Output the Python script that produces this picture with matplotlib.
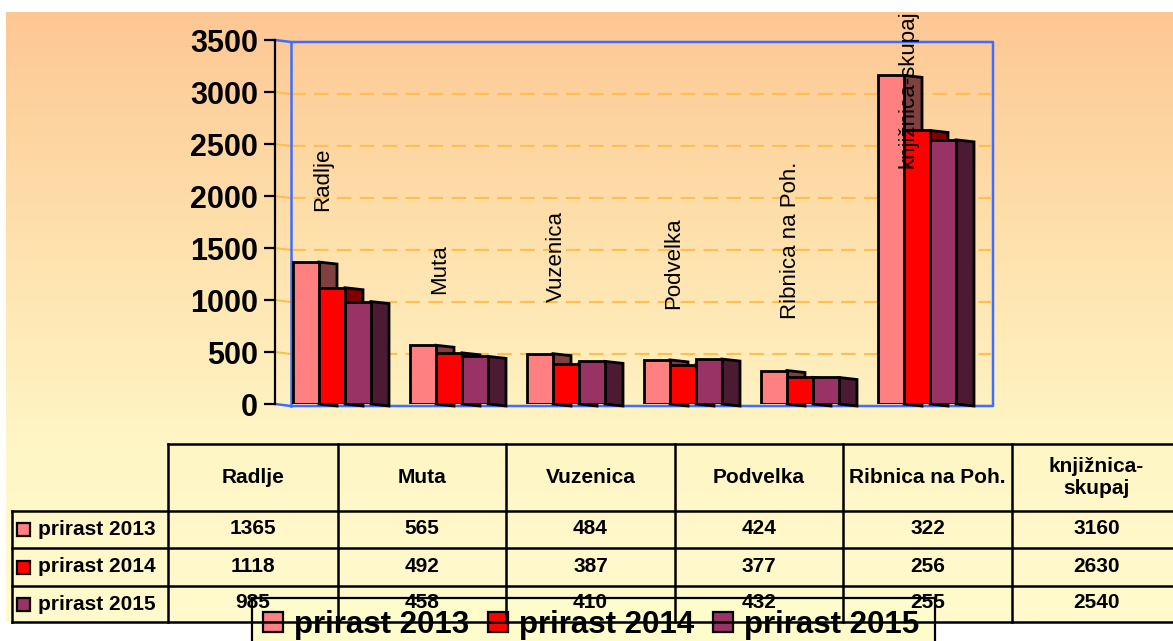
import numpy as np
import matplotlib
matplotlib.use('Agg')
import matplotlib.pyplot as plt
from matplotlib.patches import Rectangle, Polygon

plt.rcParams['font.family'] = ['Liberation Sans', 'DejaVu Sans']

# ---------------- data ----------------
categories = ['Radlje', 'Muta', 'Vuzenica', 'Podvelka', 'Ribnica na Poh.', 'knjižnica-skupaj']
series_names = ['prirast 2013', 'prirast 2014', 'prirast 2015']
prirast_2013 = [1365, 565, 484, 424, 322, 3160]
prirast_2014 = [1118, 492, 387, 377, 256, 2630]
prirast_2015 = [985, 458, 410, 432, 255, 2540]
y_ticks = [0, 500, 1000, 1500, 2000, 2500, 3000, 3500]

series = [prirast_2013, prirast_2014, prirast_2015]
front_colors = ['#FF8080', '#FF0000', '#993366']
side_colors = ['#804040', '#800000', '#4C1A33']
grid_c = '#FFBE4D'
blue_c = '#3F6EFF'

W, H, DPI = 1173, 641, 100
fig = plt.figure(figsize=(W / DPI, H / DPI), dpi=DPI, facecolor='white')


def fx(px):
    return px / W


def fy(py):
    return 1 - py / H


# ---------------- background gradient ----------------
ax_bg = fig.add_axes([0, 0, 1, 1], zorder=0)
ys = np.arange(12, 623)
stops_y = [12, 220, 450, 622]
stops_c = np.array([[253, 199, 148], [254, 223, 170], [255, 246, 198], [255, 250, 205]]) / 255
grad = np.stack([np.interp(ys, stops_y, stops_c[:, k]) for k in range(3)], axis=-1)[:, None, :]
ax_bg.imshow(grad, extent=(6, W, 622, 12), aspect='auto', interpolation='bilinear')
ax_bg.set_xlim(0, W)
ax_bg.set_ylim(H, 0)
ax_bg.axis('off')

# ---------------- main plot ----------------
x_axis_px, x0_px, x_right_px = 275, 291, 993
y0_px, ytop_px = 404, 40
ncat = len(categories)
unit = (x_right_px - x0_px) / ncat
ax = fig.add_axes([fx(x_axis_px), fy(y0_px), (x_right_px - x_axis_px) / W, (y0_px - ytop_px) / H], zorder=1)
xl = -(x0_px - x_axis_px) / unit
ax.set_xlim(xl, ncat)
ax.set_ylim(y_ticks[0], y_ticks[-1])
ax.patch.set_visible(False)
for s in ['top', 'right', 'bottom']:
    ax.spines[s].set_visible(False)
ax.spines['left'].set_linewidth(1.6)
ax.set_xticks([])
ax.set_yticks(y_ticks)
ax.tick_params(axis='y', length=7.9, width=1.6, pad=4.3, labelsize=22)
for lab in ax.get_yticklabels():
    lab.set_fontweight('bold')

ymax = y_ticks[-1]
d = 2 * ymax / (y0_px - ytop_px)  # small perspective drop (2 px)

# gridlines
for v in y_ticks[1:-1]:
    ax.plot([xl, 0], [v, v - d], color=grid_c, lw=1.5, zorder=0.5, clip_on=False)
    ax.plot([0, ncat - 0.02], [v - d, v - d], color=grid_c, lw=1.5, ls=(0, (7, 4)), zorder=0.5)

# blue back wall frame
ax.plot([xl, 0, ncat, ncat, 0, xl], [ymax, ymax - d, ymax - d, -d, -d, 0],
        color=blue_c, lw=1.8, clip_on=False, zorder=1)
ax.plot([0, 0], [-d, ymax - d], color=blue_c, lw=1.8, clip_on=False, zorder=1)

# bars with pseudo-3D side faces
bw, sw, gap0 = 26 / unit, 18 / unit, 2 / unit
for j, vals in enumerate(series):
    xs = np.arange(ncat) + gap0 + j * bw
    ax.bar(xs, vals, width=bw, align='edge', color=front_colors[j], edgecolor='black',
           linewidth=2.0, zorder=3)
    for x, v in zip(xs, vals):
        ax.add_patch(Polygon([(x + bw, 0), (x + bw, v), (x + bw + sw, v - d), (x + bw + sw, -d)],
                             closed=True, fc=side_colors[j], ec='black', lw=2.0, zorder=2,
                             clip_on=False, joinstyle='miter'))

# rotated category labels above first series
labels = []
for i, (name, v) in enumerate(zip(categories, prirast_2013)):
    t = ax.annotate(name, xy=(i + 0.27, v), xytext=(0, 37), textcoords='offset points',
                    rotation=90, ha='center', va='bottom', fontsize=16, zorder=6,
                    annotation_clip=False)
    labels.append(t)

fig.canvas.draw()
limit = H - 10
for t in labels:
    bb = t.get_window_extent()
    if bb.y1 > limit:
        shift_pt = (bb.y1 - limit) * 72 / DPI
        t.xyann = (0, 37 - shift_pt)

# ---------------- table + legend (pixel overlay) ----------------
ov = fig.add_axes([0, 0, 1, 1], zorder=2)
ov.set_xlim(0, W)
ov.set_ylim(H, 0)
ov.axis('off')
ov.patch.set_visible(False)

# legend (drawn below table)
ov.add_patch(Rectangle((252, 598), 683, 60, fc='#FFFCCB', ec='black', lw=1.6, zorder=1, clip_on=True))
for j, name in enumerate(series_names):
    sx = 263 + j * 225
    ov.add_patch(Rectangle((sx, 612), 20, 20, fc=front_colors[j], ec='black', lw=1.6, zorder=2))
    ov.text(sx + 31, 633, name, fontsize=22.5, fontweight='bold', ha='left', va='baseline', zorder=2)

col_x = [12, 168, 338, 506, 675, 843, 1012, 1181]
row_y = [444, 511, 548, 586, 622]
lw_t = 1.8
ov.plot([col_x[1], col_x[-1]], [row_y[0], row_y[0]], color='black', lw=lw_t, zorder=3)
for yy in row_y[1:]:
    ov.plot([col_x[0], col_x[-1]], [yy, yy], color='black', lw=lw_t, zorder=3)
ov.plot([col_x[0], col_x[0]], [row_y[1], row_y[-1]], color='black', lw=lw_t, zorder=3)
for xx in col_x[1:]:
    ov.plot([xx, xx], [row_y[0], row_y[-1]], color='black', lw=lw_t, zorder=3)

hy = (row_y[0] + row_y[1]) / 2
for i, name in enumerate(categories):
    cx = (col_x[i + 1] + col_x[i + 2]) / 2
    ov.text(cx, hy, name.replace('-', '-\n'), fontsize=15, fontweight='bold', ha='center',
            va='center', multialignment='center', linespacing=1.15, zorder=4)

for j, (name, vals) in enumerate(zip(series_names, series)):
    cy = (row_y[j + 1] + row_y[j + 2]) / 2
    ov.add_patch(Rectangle((17, cy - 6.5), 13, 13, fc=front_colors[j], ec='black', lw=1.6, zorder=4))
    ov.text(38, cy, name, fontsize=15, fontweight='bold', ha='left', va='center', zorder=4)
    for i, v in enumerate(vals):
        cx = (col_x[i + 1] + col_x[i + 2]) / 2
        ov.text(cx, cy - 1, str(v), fontsize=15, fontweight='bold', ha='center', va='center', zorder=4)

fig.savefig('out.png', dpi=DPI, facecolor='white')
